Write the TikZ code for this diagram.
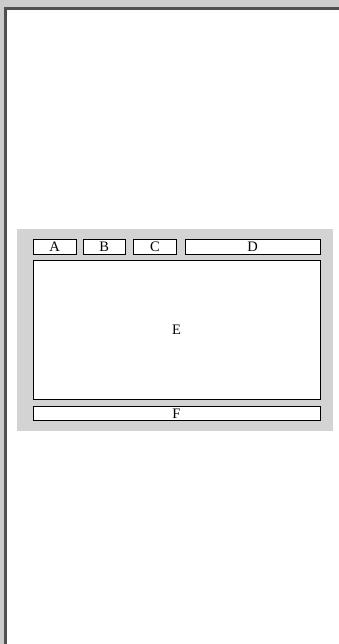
\documentclass[tikz,border=0pt]{standalone}
\usepackage{fontspec}
\setmainfont{Liberation Serif}
\definecolor{outergray}{HTML}{CCCCCC}
\definecolor{bardark}{HTML}{505050}
\definecolor{panelgray}{HTML}{D3D3D3}
\begin{document}
\begin{tikzpicture}[x=1pt,y=-1pt,
  box/.style={draw=black,line width=1pt,fill=white,inner sep=0pt,anchor=center,
    font=\fontsize{14.5}{14.5}\selectfont},
]
\useasboundingbox (0,0) rectangle (339,644);
\fill[outergray] (0,0) rectangle (339,644);
\fill[bardark] (4.3,7) rectangle (339,10);
\fill[bardark] (4.3,7) rectangle (7,644);
\fill[white] (7,10) rectangle (339,644);
\fill[panelgray] (17,229) rectangle (333,431);
\node[box,minimum width=43pt,minimum height=15pt] (A) at (54.5,246.5) {A};
\node[box,minimum width=41.5pt,minimum height=15pt] (B) at (104.25,246.5) {B};
\node[box,minimum width=43pt,minimum height=15pt] (C) at (155,246.5) {C};
\node[box,minimum width=135pt,minimum height=15pt] (D) at (252.5,246.5) {D};
\node[box,minimum width=287pt,minimum height=139.5pt] (E) at (176.5,329.75) {E};
\node[box,minimum width=287pt,minimum height=14.5pt] (F) at (176.5,413.25) {F};
\end{tikzpicture}
\end{document}
